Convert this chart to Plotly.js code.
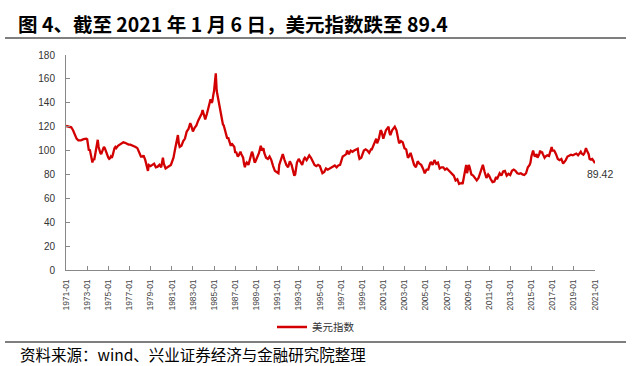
<!DOCTYPE html>
<html>
<head>
<meta charset="utf-8">
<script src="https://cdn.plot.ly/plotly-3.0.1.min.js"></script>
<style>html,body{margin:0;padding:0;background:#fff;}#chart{width:641px;height:366px;}</style>
</head>
<body>
<div id="chart"></div>
<script>
const titleText = '图 4、截至 2021 年 1 月 6 日，美元指数跌至 89.4';
const sourceText = '资料来源：wind、兴业证券经济与金融研究院整理';
const seriesName = '美元指数';
const lastLabel = '89.42';
const tickLabels = ['1971-01','1973-01','1975-01','1977-01','1979-01','1981-01','1983-01','1985-01','1987-01','1989-01','1991-01','1993-01','1995-01','1997-01','1999-01','2001-01','2003-01','2005-01','2007-01','2009-01','2011-01','2013-01','2015-01','2017-01','2019-01','2021-01'];
const dates = [
'1971-01','1971-04','1971-07','1971-09','1971-11','1972-01','1972-03','1972-06','1972-09','1972-12',
'1973-01','1973-02','1973-03','1973-04','1973-05','1973-06','1973-07','1973-08','1973-09','1973-10','1973-11','1973-12',
'1974-01','1974-02','1974-03','1974-04','1974-05','1974-06','1974-07','1974-08','1974-09','1974-10','1974-11','1974-12',
'1975-01','1975-02','1975-03','1975-04','1975-05','1975-06','1975-07','1975-08','1975-09','1975-10','1975-12',
'1976-02','1976-04','1976-06','1976-08','1976-10','1976-12',
'1977-02','1977-04','1977-06','1977-08','1977-10','1977-12',
'1978-02','1978-04','1978-05','1978-07','1978-08','1978-10','1978-11',
'1979-01','1979-03','1979-05','1979-07','1979-09','1979-11',
'1980-01','1980-03','1980-04','1980-06','1980-08','1980-10','1980-12',
'1981-01','1981-03','1981-05','1981-07','1981-08','1981-09','1981-10','1981-12',
'1982-02','1982-04','1982-06','1982-08','1982-10','1982-11',
'1983-01','1983-03','1983-05','1983-07','1983-09','1983-11','1983-12',
'1984-02','1984-03','1984-05','1984-07','1984-09','1984-10','1984-11','1984-12',
'1985-01','1985-02','1985-03','1985-04','1985-05','1985-06','1985-07','1985-08','1985-09','1985-10','1985-11','1985-12',
'1986-01','1986-02','1986-03','1986-04','1986-05','1986-06','1986-07','1986-08','1986-09','1986-10','1986-11','1986-12',
'1987-01','1987-02','1987-03','1987-04','1987-05','1987-06','1987-07','1987-08','1987-10','1987-11','1987-12',
'1988-01','1988-02','1988-04','1988-06','1988-08','1988-09','1988-11','1988-12',
'1989-02','1989-04','1989-06','1989-07','1989-09','1989-10','1989-12',
'1990-02','1990-04','1990-06','1990-08','1990-10','1990-12',
'1991-02','1991-03','1991-05','1991-07','1991-09','1991-11',
'1992-01','1992-02','1992-03','1992-05','1992-07','1992-08','1992-09','1992-10','1992-11',
'1993-01','1993-03','1993-05','1993-07','1993-08','1993-10','1993-12',
'1994-01','1994-03','1994-05','1994-07','1994-09','1994-11',
'1995-01','1995-03','1995-04','1995-06','1995-08','1995-10','1995-12',
'1996-02','1996-04','1996-06','1996-08','1996-10','1996-12',
'1997-01','1997-03','1997-05','1997-07','1997-08','1997-10','1997-12',
'1998-02','1998-04','1998-06','1998-08','1998-09','1998-10','1998-12',
'1999-01','1999-03','1999-05','1999-07','1999-09','1999-11','1999-12',
'2000-01','2000-03','2000-05','2000-06','2000-08','2000-10','2000-11',
'2001-01','2001-02','2001-04','2001-06','2001-07','2001-08','2001-09','2001-11',
'2002-01','2002-02','2002-04','2002-06','2002-07','2002-09','2002-11',
'2003-01','2003-03','2003-05','2003-06','2003-08','2003-10','2003-12',
'2004-02','2004-04','2004-06','2004-08','2004-10','2004-12',
'2005-02','2005-04','2005-06','2005-07','2005-09','2005-11',
'2006-01','2006-03','2006-05','2006-07','2006-09','2006-11',
'2007-01','2007-03','2007-05','2007-07','2007-09','2007-11',
'2008-01','2008-03','2008-04','2008-06','2008-07','2008-08','2008-10','2008-11','2008-12',
'2009-02','2009-03','2009-05','2009-07','2009-09','2009-11',
'2010-01','2010-03','2010-05','2010-06','2010-08','2010-10','2010-12',
'2011-01','2011-03','2011-05','2011-07','2011-09','2011-10','2011-12',
'2012-01','2012-03','2012-05','2012-07','2012-09','2012-11',
'2013-01','2013-03','2013-05','2013-07','2013-09','2013-11',
'2014-01','2014-03','2014-05','2014-07','2014-09','2014-11','2014-12',
'2015-01','2015-03','2015-04','2015-05','2015-07','2015-08','2015-10','2015-11','2015-12',
'2016-01','2016-02','2016-04','2016-05','2016-07','2016-09','2016-11','2016-12',
'2017-01','2017-03','2017-05','2017-07','2017-09','2017-11',
'2018-01','2018-02','2018-04','2018-06','2018-08','2018-10','2018-12',
'2019-02','2019-04','2019-06','2019-08','2019-09','2019-10','2019-12',
'2020-01','2020-03','2020-04','2020-05','2020-06','2020-07','2020-08','2020-10','2020-12',
'2021-01-06'];
const dxy = [
120.6,120.0,119.5,117,114,110,108.5,108.5,109.5,110,
109.5,102,100,101,97,94,90,93,92,96,101,108,
109,103,100,98,97,99,101,103,102,100,97,96,
94,93,93.5,95,94,96,100,102,103,102,104,
105,106,107,106.5,105.5,105,
105,104.5,104,103,102,98,
95,95,96,92,89,83,88,
87,88,89,86,86.5,88,
86,94,89,85,86,87,88,
90,94,102,109,113,106,103,104,
108,110,116,118,123,121,
116,119,121,125,128,131,134,
127,126,131,136,143,140,141,146,
150,158,164.7,150,146,144,138,135,131,125,122,121,
118,114,112,110,111,108,105,104,106,105,103,103,
98,99,97,95,96,98,99,97,94,89,86,
89,90,88,94,99,97,90,91,
95,98,104,100,102,98,94,
93,95,92,87,83,82,
81,88,93,97,92,88,
86,90,91,88,83,79,80,84,90,
93,91,88,93,94,92,95,
96,94,91,88,87,88,
87,83,81,82,85,84,85,
86,87,87.5,86,87.5,88,
91,95,96,97,100,97,100,
99,100,101,101.5,96,93,94,
96,100,101,100,98,101,101,
103,106,110,106,110,117,116,
110,112,117,119,120,115,113,117,
119,120,117,108,106,108,107,
102,101,94,95,98,93,88,
86,91,89,88,85,81,
84,84,89,90.5,88,92,
89,90,85,86,86,84,
85,83,82,80.5,79,75,
76,72,72.5,73,72,77,84,88,81,
88,86,80,79,77,75,
77,81,86,88,82,77,80,
79,76,73.5,74,78,76,80,
81,79,82.5,83,79,80.5,
79.5,83,84,83,81,80.5,
81,80,79.5,81,86,88,90,
95,100,97,95,97,94,97,100,98,
99,97,94,95,96,95.5,101,103,
100,100,97,93,92,93,
89,90,92,95,96,96.5,96,
96.5,97.5,96,98,99,97.5,96.5,
97.5,102,100,98,97,93,92.5,93,90,
89.42];

const W = 641, H = 366, L = 66, R = 46, T = 55, B = 96;
const pw = W - L - R, ph = H - T - B;
const px = x => (x - L) / pw;
const py = y => (H - B - y) / ph;

const trace = {
  x: dates, y: dxy, type: 'scatter', mode: 'lines', name: seriesName,
  line: {color: '#d20000', width: 2.3}
};

const layout = {
  width: W, height: H,
  margin: {l: L, r: R, t: T, b: B, pad: 0},
  paper_bgcolor: '#ffffff', plot_bgcolor: '#ffffff',
  font: {family: 'Liberation Sans, Arial, sans-serif', color: '#333'},
  title: {
    text: titleText, xref: 'container', yref: 'container',
    x: 18 / W, xanchor: 'left', y: 1 - 25 / H, yanchor: 'middle',
    font: {family: 'Noto Sans CJK SC, sans-serif', size: 19.5, color: '#000', weight: 'bold'}
  },
  showlegend: true,
  legend: {
    orientation: 'h', x: px(316), xanchor: 'center', y: py(327), yanchor: 'middle',
    font: {family: 'Noto Sans CJK SC, sans-serif', size: 10.5, color: '#333'},
    bgcolor: 'rgba(0,0,0,0)'
  },
  xaxis: {
    type: 'date', range: ['1971-01-01', '2021-01-06'],
    tickmode: 'array', tickvals: tickLabels.map(t => t + '-01'), ticktext: tickLabels,
    tickangle: -90, ticks: 'inside', ticklen: 4, tickcolor: '#888',
    showline: true, linecolor: '#888', linewidth: 1, showgrid: false, zeroline: false,
    tickfont: {size: 8.5, color: '#444'}, ticklabelstandoff: 5
  },
  yaxis: {
    range: [0, 180], dtick: 20, tick0: 0,
    ticks: 'inside', ticklen: 4, tickcolor: '#888',
    showline: true, linecolor: '#888', linewidth: 1, showgrid: false, zeroline: false,
    tickfont: {size: 10, color: '#333'}, ticklabelstandoff: 8
  },
  shapes: [
    {type: 'line', xref: 'paper', yref: 'paper', x0: px(5), x1: px(626), y0: py(38), y1: py(38), line: {color: '#000', width: 1.2}},
    {type: 'line', xref: 'paper', yref: 'paper', x0: px(5), x1: px(626), y0: py(342), y1: py(342), line: {color: '#000', width: 1.2}}
  ],
  annotations: [
    {x: dates[dates.length - 1], y: dxy[dxy.length - 1], xref: 'x', yref: 'y', text: lastLabel,
     showarrow: false, xanchor: 'center', yanchor: 'middle', xshift: 5, yshift: -11,
     font: {size: 10.5, color: '#333'}},
    {x: px(18), y: py(354), xref: 'paper', yref: 'paper', text: sourceText, showarrow: false,
     xanchor: 'left', yanchor: 'middle', font: {family: 'Noto Sans CJK SC, sans-serif', size: 15.5, color: '#000'}}
  ]
};

Plotly.newPlot('chart', [trace], layout, {displayModeBar: false, staticPlot: true});
</script>
</body>
</html>
